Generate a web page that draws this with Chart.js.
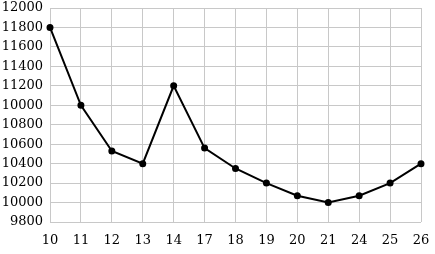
<!DOCTYPE html>
<html>
<head>
<meta charset="utf-8">
<script src="https://cdn.jsdelivr.net/npm/chart.js@4.4.0/dist/chart.umd.min.js"></script>
<style>
  html, body { margin: 0; padding: 0; background: #fff; }
  #wrap { width: 435px; height: 254px; }
</style>
</head>
<body>
<div id="wrap"><canvas id="chart"></canvas></div>
<script>
// x categories (days) and values
const days = ['10', '11', '12', '13', '14', '17', '18', '19', '20', '21', '24', '25', '26'];
const values = [11800, 11000, 10530, 10400, 11200, 10560, 10350, 10200, 10070, 10000, 10070, 10200, 10400];

// y tick values and their printed labels (the original prints "10000" at 11000)
const yTicks = [9800, 10000, 10200, 10400, 10600, 10800, 11000, 11200, 11400, 11600, 11800, 12000];
const yTickLabels = ['9800', '10000', '10200', '10400', '10600', '10800', '10000', '11200', '11400', '11600', '11800', '12000'];

const font = { family: 'DejaVu Serif', size: 13 };

new Chart(document.getElementById('chart'), {
    type: 'line',
    data: {
        labels: days,
        datasets: [{
            data: values,
            borderColor: '#000',
            borderWidth: 2,
            pointBackgroundColor: '#000',
            pointBorderColor: '#000',
            pointRadius: 2.5,
            tension: 0
        }]
    },
    options: {
        responsive: true,
        maintainAspectRatio: false,
        animation: false,
        layout: { padding: { top: 8, right: 14, bottom: 0, left: 0 } },
        plugins: {
            legend: { display: false },
            tooltip: { enabled: false }
        },
        scales: {
            x: {
                offset: false,
                afterFit: function(scale) {
                    scale.height = 32;
                    scale.paddingRight = 0;
                    scale.paddingLeft = 0;
                },
                grid: { color: '#c8c8c8', lineWidth: 1, drawTicks: false },
                border: { display: false },
                ticks: { color: '#000', font: font, padding: 11, maxRotation: 0, autoSkip: false }
            },
            y: {
                min: 9800,
                max: 12000,
                afterBuildTicks: function(scale) {
                    scale.ticks = yTicks.map(v => ({ value: v }));
                },
                afterFit: function(scale) {
                    scale.width = 50;
                    scale.paddingTop = 0;
                    scale.paddingBottom = 0;
                },
                grid: { color: '#c8c8c8', lineWidth: 1, drawTicks: false },
                border: { display: false },
                ticks: {
                    color: '#000',
                    font: font,
                    padding: 7,
                    autoSkip: false,
                    callback: function(v) {
                        const i = yTicks.indexOf(v);
                        return i >= 0 ? yTickLabels[i] : '';
                    }
                }
            }
        }
    }
});
</script>
</body>
</html>
